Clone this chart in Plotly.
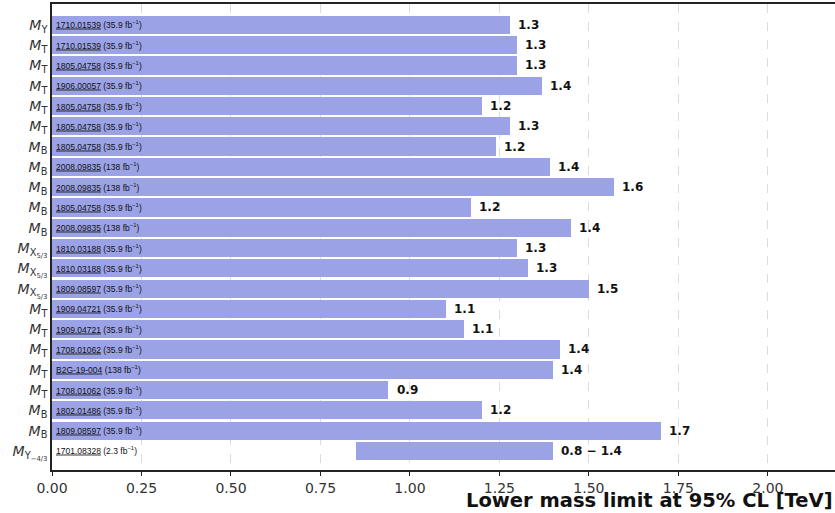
import plotly.graph_objects as go

# ---- data (top row first) ----
particles = ["Y", "T", "T", "T", "T", "T", "B", "B", "B", "B", "B",
             "X<sub>5/3</sub>", "X<sub>5/3</sub>", "X<sub>5/3</sub>",
             "T", "T", "T", "T", "T", "B", "B", "Y<sub>−4/3</sub>"]
refs = ["1710.01539", "1710.01539", "1805.04758", "1906.00057", "1805.04758",
        "1805.04758", "1805.04758", "2008.09835", "2008.09835", "1805.04758",
        "2008.09835", "1810.03188", "1810.03188", "1809.08597", "1909.04721",
        "1909.04721", "1708.01062", "B2G-19-004", "1708.01062", "1802.01486",
        "1809.08597", "1701.08328"]
lumis = ["35.9", "35.9", "35.9", "35.9", "35.9", "35.9", "35.9", "138", "138",
         "35.9", "138", "35.9", "35.9", "35.9", "35.9", "35.9", "35.9", "138",
         "35.9", "35.9", "35.9", "2.3"]
lower = [0, 0, 0, 0, 0, 0, 0, 0, 0, 0, 0, 0, 0, 0, 0, 0, 0, 0, 0, 0, 0, 0.85]
limits = [1.28, 1.30, 1.30, 1.37, 1.20, 1.28, 1.24, 1.39, 1.57, 1.17, 1.45,
          1.30, 1.33, 1.50, 1.10, 1.15, 1.42, 1.40, 0.94, 1.20, 1.70, 1.40]
xticks = [0.0, 0.25, 0.5, 0.75, 1.0, 1.25, 1.5, 1.75, 2.0]

n = len(limits)
pos = list(range(n))
ticktext = [f'<span style="color:#333"><i>M</i><sub>{p}</sub></span>' for p in particles]

fig = go.Figure()
fig.add_trace(go.Bar(
    y=pos, x=[h - b for h, b in zip(limits, lower)], base=lower,
    orientation="h", width=0.9,
    marker=dict(color="#9ba3e6", line=dict(width=0)),
    hoverinfo="skip", showlegend=False,
))

annotations = []
for i in range(n):
    annotations.append(dict(
        x=0.006, y=pos[i], xref="x", yref="y", xanchor="left", yanchor="middle",
        showarrow=False,
        text=(f'<span style="text-decoration:underline">{refs[i]}</span>'
              f' ({lumis[i]} fb<sup>−1</sup>)'),
        font=dict(family="Liberation Sans, Arial", size=8.5, color="#111"),
    ))
    if lower[i] > 0:
        lab = f"{lower[i]:.1f} − {limits[i]:.1f}"
    else:
        lab = f"{limits[i]:.1f}"
    annotations.append(dict(
        x=limits[i] + 0.017, y=pos[i], xref="x", yref="y",
        xanchor="left", yanchor="middle", showarrow=False,
        text=f"<b>{lab}</b>",
        font=dict(family="DejaVu Sans", size=12, color="#111"),
    ))

annotations.append(dict(
    x=1, y=0, xref="paper", yref="paper", xanchor="right", yanchor="bottom",
    xshift=-1, yshift=-43, showarrow=False, borderpad=0,
    text="<b>Lower mass limit at 95% CL [TeV]</b>",
    font=dict(family="DejaVu Sans", size=19.5, color="#111"),
))

fig.update_layout(
    width=835, height=513,
    margin=dict(l=52, r=0, t=4, b=43),
    paper_bgcolor="white", plot_bgcolor="white",
    annotations=annotations,
    bargap=0,
)
fig.update_xaxes(
    range=[0, 2.1875], tickvals=xticks,
    ticktext=[f"{v:.2f}" for v in xticks],
    showgrid=True, gridcolor="#dcdcdc", griddash="dash", gridwidth=1,
    showline=True, linecolor="#222", linewidth=1.5, mirror=True,
    ticks="outside", ticklen=4, tickcolor="#222",
    tickfont=dict(family="DejaVu Sans", size=14, color="#333"),
    zeroline=False, layer="above traces",
)
fig.update_yaxes(
    range=[21.94, -1.03], tickvals=pos, ticktext=ticktext,
    showgrid=False, zeroline=False,
    showline=True, linecolor="#222", linewidth=1.5, mirror=False,
    ticks="", tickfont=dict(family="DejaVu Sans", size=14, color="#333"),
)

fig.write_html("out.html")
